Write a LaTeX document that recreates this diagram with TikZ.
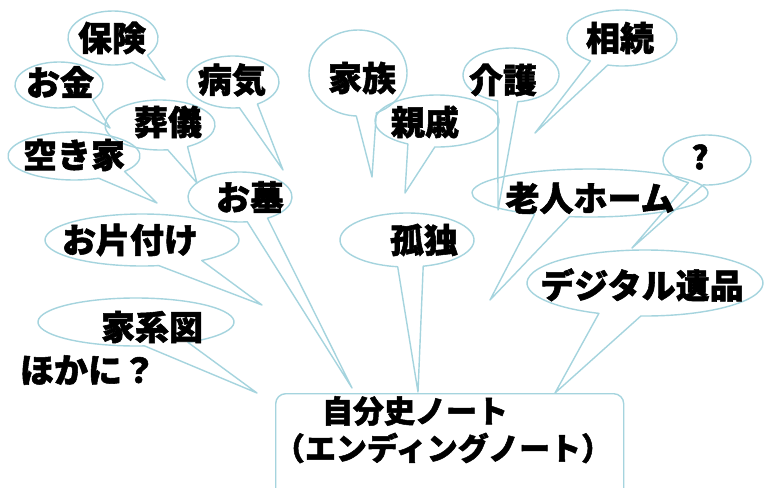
\documentclass[tikz,border=0pt]{standalone}
\usepackage{fontspec}
\newfontfamily\jp{Noto Sans CJK JP}[BoldFeatures={FakeBold=1.6}]
\usetikzlibrary{calc}
\definecolor{bubc}{RGB}{165,212,222}
\tikzset{
  bubline/.style={draw=bubc, line width=1.4pt, line join=round},
  txt/.style={font=\jp\bfseries\fontsize{34}{40}\selectfont, inner sep=0pt, text=black},
  ctxt/.style={font=\jp\bfseries\fontsize{31}{36}\selectfont, inner sep=0pt, text=black},
}
% cx cy rx ry gapstart gapend tip
\newcommand\bub[7]{%
  \draw[bubline] ($(#1,#2)+(#6:#3 and #4)$) arc[start angle=#6, end angle=#5+360, x radius=#3, y radius=#4] -- (#7) -- cycle;}
\begin{document}
\begin{tikzpicture}[x=1pt,y=1pt]
\useasboundingbox (0,0) rectangle (773,-487);
\fill[white] (0,0) rectangle (773,-487);
% tail tips
\coordinate (p-hoken) at (165,-80);
\coordinate (p-okane) at (110,-128);
\coordinate (p-byoki) at (283,-170);
\coordinate (p-sogi) at (197,-183);
\coordinate (p-akiya) at (157,-203);
\coordinate (p-ohaka) at (352,-388);
\coordinate (p-katazuke) at (262,-305);
\coordinate (p-kakeizu) at (257,-393);
\coordinate (p-kazoku) at (372,-177);
\coordinate (p-shinseki) at (405,-193);
\coordinate (p-kaigo) at (498,-210);
\coordinate (p-sozoku) at (535,-133);
\coordinate (p-rojin) at (490,-300);
\coordinate (p-q) at (632,-248);
\coordinate (p-kodoku) at (418,-392);
\coordinate (p-digital) at (555,-393);
% bubbles
\bub{113}{-38}{45}{27}{-65}{-40}{p-hoken}
\bub{59}{-85}{44}{23}{-70}{-40}{p-okane}
\bub{233}{-82}{46}{26}{-82}{-58}{p-byoki}
\bub{160}{-125}{55}{25}{-82}{-60}{p-sogi}
\bub{74}{-156}{66}{24}{-68}{-40}{p-akiya}
\bub{240}{-197}{52}{25}{-82}{-58}{p-ohaka}
\bub{142}{-240}{97}{26}{-80}{-52}{p-katazuke}
\bub{136}{-322}{98}{24}{-85}{-58}{p-kakeizu}
\bub{358}{-73}{49}{43}{-92}{-68}{p-kazoku}
\bub{437}{-121}{62}{26}{-118}{-92}{p-shinseki}
\bub{511}{-75}{48}{27}{-106}{-82}{p-kaigo}
\bub{622}{-38}{55}{28}{-125}{-105}{p-sozoku}
\bub{590}{-193}{118}{24}{-118}{-100}{p-rojin}
\bub{707}{-160}{44}{25}{-115}{-95}{p-q}
\bub{407}{-240}{67}{27}{-98}{-76}{p-kodoku}
\bub{645}{-283}{118}{33}{-113}{-92}{p-digital}
% central box
\node[bubline, rounded corners=10pt, minimum width=348pt, minimum height=107pt, anchor=north west] (main) at (275,-393) {};
% texts
\node[txt] (hoken) at (112,-38) {保険};
\node[txt] (okane) at (60,-82) {お金};
\node[txt] (byoki) at (232,-80) {病気};
\node[txt] (sogi) at (168,-122) {葬儀};
\node[txt] (akiya) at (74,-155) {空き家};
\node[txt] (ohaka) at (250,-197) {お墓};
\node[txt] (katazuke) at (130,-240) {お片付け};
\node[txt] (kakeizu) at (152,-327) {家系図};
\node[txt] (hokani) at (88,-370) {ほかに？};
\node[txt] (kazoku) at (362,-78) {家族};
\node[txt] (shinseki) at (425,-122) {親戚};
\node[txt] (kaigo) at (503,-80) {介護};
\node[txt] (sozoku) at (620,-38) {相続};
\node[txt] (rojin) at (590,-198) {老人ホーム};
\node[txt, font=\jp\bfseries\fontsize{32}{36}\selectfont] (q) at (700,-157) {?};
\node[txt] (kodoku) at (424,-240) {孤独};
\node[txt] (digital) at (642,-285) {デジタル遺品};
\node[ctxt] (line1) at (415,-411) {自分史ノート};
\node[ctxt] (line2) at (443,-448) {（エンディングノート）};
\end{tikzpicture}
\end{document}
